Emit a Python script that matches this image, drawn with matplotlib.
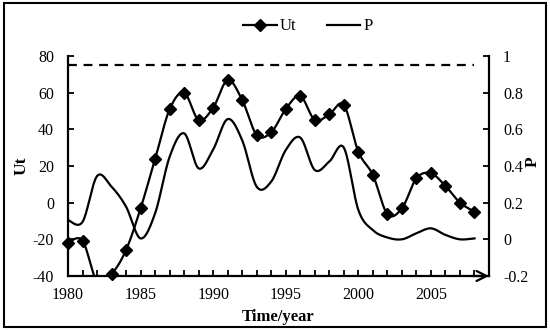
import numpy as np
import matplotlib
matplotlib.use("Agg")
import matplotlib.pyplot as plt
from matplotlib.patches import Rectangle

years = list(range(1980, 2009))
ut = [-21.8, -20.7, -43.0, -38.9, -25.8, -3.1, 23.8, 50.9, 60.0, 45.1,
      51.8, 66.9, 56.0, 36.9, 38.4, 51.1, 58.2, 45.1, 48.2, 53.3,
      27.8, 15.1, -6.2, -3.1, 13.3, 16.0, 9.1, 0.0, -4.9]
p = [0.105, 0.095, 0.345, 0.287, 0.178, 0.005, 0.142, 0.45, 0.578, 0.387,
     0.49, 0.656, 0.54, 0.287, 0.315, 0.487, 0.555, 0.378, 0.424, 0.50,
     0.16, 0.05, 0.01, 0.0, 0.033, 0.06, 0.024, 0.0, 0.005]
p_crit = 0.95


def smooth(x, y, n=30):
    # Excel style smoothed line: cubic bezier through the points
    x = np.asarray(x, float)
    y = np.asarray(y, float)
    xs, ys = [], []
    t = np.linspace(0, 1, n)
    for i in range(len(x) - 1):
        i0 = max(i - 1, 0)
        i3 = min(i + 2, len(x) - 1)
        c1x = x[i] + (x[i + 1] - x[i0]) / 6
        c1y = y[i] + (y[i + 1] - y[i0]) / 6
        c2x = x[i + 1] - (x[i3] - x[i]) / 6
        c2y = y[i + 1] - (y[i3] - y[i]) / 6
        b0 = (1 - t) ** 3
        b1 = 3 * (1 - t) ** 2 * t
        b2 = 3 * (1 - t) * t ** 2
        b3 = t ** 3
        xs.append(b0 * x[i] + b1 * c1x + b2 * c2x + b3 * x[i + 1])
        ys.append(b0 * y[i] + b1 * c1y + b2 * c2y + b3 * y[i + 1])
    return np.concatenate(xs), np.concatenate(ys)


plt.rcParams['font.family'] = ['Liberation Serif', 'DejaVu Serif']
plt.rcParams['font.size'] = 11.5
plt.rcParams['axes.unicode_minus'] = False

fig = plt.figure(figsize=(5.5, 3.3), dpi=100)
ax = fig.add_axes([68 / 550, 1 - 276 / 330, (489 - 68) / 550, (276 - 56) / 330])
ax2 = ax.twinx()

lw = 1.6
sx, sy = smooth(years, ut)
ax.plot(sx, sy, color='black', lw=lw, zorder=3)
ax.plot(years, np.ma.masked_less(ut, -40), ls='none', marker='D', ms=6,
        color='black', clip_on=False, zorder=4)

px, py = smooth(years, p)
ax2.plot(px, py, color='black', lw=lw)
ax2.plot([years[0], years[-1]], [p_crit, p_crit], color='black', lw=lw,
         dashes=(4, 3))

ax.set_xlim(1980, 2009)
ax.set_ylim(-40, 80)
ax2.set_ylim(-0.2, 1)
ax.set_xticks(range(1980, 2009, 5))
ax.set_xticks(range(1980, 2010), minor=True)
ax.set_yticks(range(-40, 81, 20))
ax2.set_yticks([-0.2, 0, 0.2, 0.4, 0.6, 0.8, 1])
ax2.set_yticklabels(['-0.2', '0', '0.2', '0.4', '0.6', '0.8', '1'])

ax.tick_params(axis='x', which='both', direction='in', length=4, width=1.3, pad=8)
ax.tick_params(axis='y', direction='in', length=4, width=1.3, pad=10)
ax2.tick_params(axis='y', direction='in', length=4, width=1.3, pad=10)

for a in (ax, ax2):
    a.spines['top'].set_visible(False)
    for s in a.spines.values():
        s.set_linewidth(1.6)
ax.spines['right'].set_visible(False)
ax2.spines['left'].set_visible(False)
ax2.spines['bottom'].set_visible(False)

# arrow head at the end of the x axis
ax.annotate('', xy=(1.0, 0), xycoords='axes fraction', xytext=(0.96, 0),
            arrowprops=dict(arrowstyle='->', lw=1.6, mutation_scale=18,
                            color='black', shrinkA=0, shrinkB=0))

ax.set_xlabel('Time/year', fontweight='bold', fontsize=12, labelpad=4)
ax.set_ylabel('Ut', fontweight='bold', fontsize=12.5)
ax2.set_ylabel('P', fontweight='bold', fontsize=12.5)
ax.yaxis.set_label_coords(-0.092, 0.5)
ax2.yaxis.set_label_coords(1.085, 0.52)

h1 = plt.Line2D([], [], color='black', lw=lw, marker='D', ms=6)
h2 = plt.Line2D([], [], color='black', lw=lw)
fig.legend([h1, h2], ['Ut', 'P'], loc='center', bbox_to_anchor=(0.56, 0.92),
           ncol=2, frameon=False, handlelength=2.0, columnspacing=1.8,
           handletextpad=0.2, fontsize=12)

fig.patches.append(Rectangle((4 / 550, 3 / 330), 542 / 550, 324 / 330,
                             transform=fig.transFigure, fill=False,
                             lw=1.5, edgecolor='black'))

fig.savefig('out.png', dpi=100)
